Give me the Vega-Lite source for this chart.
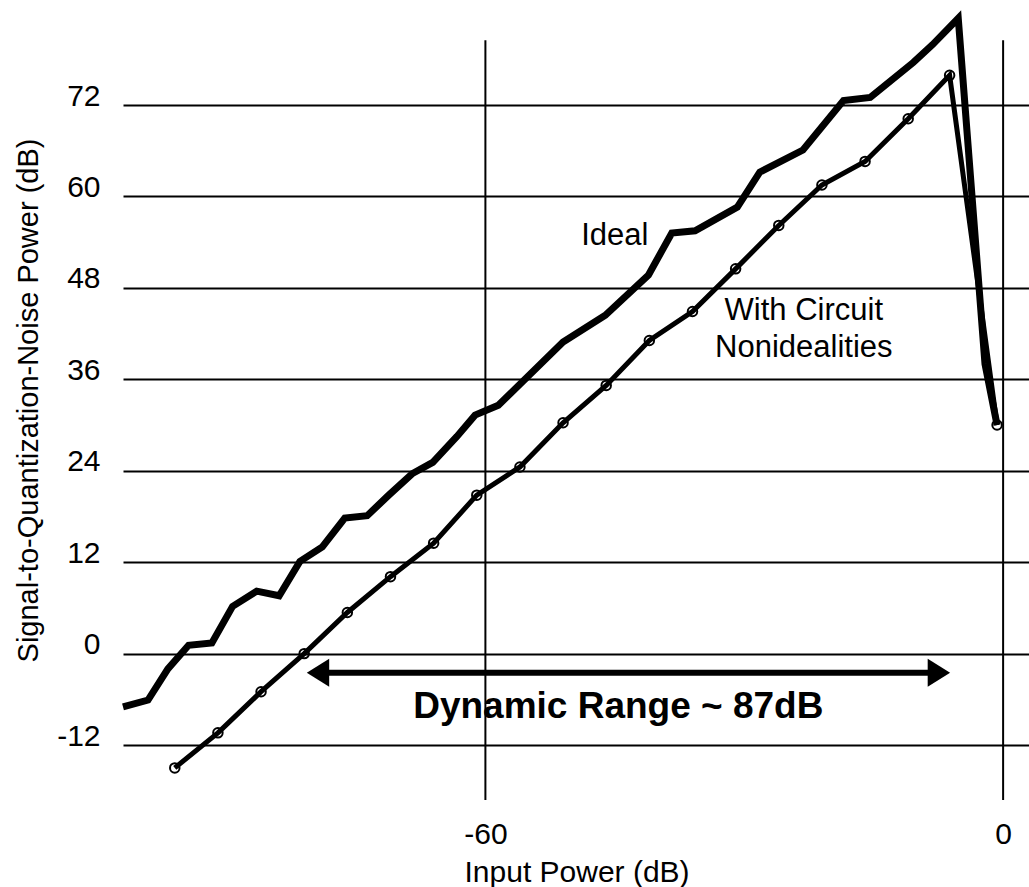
{
  "$schema": "https://vega.github.io/schema/vega-lite/v6.json",
  "width": 906,
  "height": 800,
  "autosize": {"type": "none"},
  "padding": {"left": 123, "top": 6, "right": 0, "bottom": 81},
  "background": "white",
  "config": {
    "view": {"stroke": null},
    "font": "Liberation Sans",
    "axis": {"labelFont": "Liberation Sans", "titleFont": "Liberation Sans", "labelColor": "black", "titleColor": "black", "labelFontSize": 30, "titleFontSize": 30, "titleFontWeight": "normal", "domain": false, "ticks": false}
  },
  "datasets": {
    "ideal": [
      {"x": -102, "y": -7.0}, {"x": -99.1, "y": -6.1}, {"x": -96.8, "y": -2.0}, {"x": -94.4, "y": 1.1},
      {"x": -91.7, "y": 1.4}, {"x": -89.3, "y": 6.2}, {"x": -86.5, "y": 8.2}, {"x": -83.9, "y": 7.6},
      {"x": -81.5, "y": 12.1}, {"x": -78.9, "y": 14.0}, {"x": -76.3, "y": 17.8}, {"x": -73.7, "y": 18.1},
      {"x": -71.2, "y": 20.8}, {"x": -68.5, "y": 23.6}, {"x": -66.1, "y": 25.1}, {"x": -63.3, "y": 28.5},
      {"x": -61.2, "y": 31.3}, {"x": -58.5, "y": 32.6}, {"x": -51.0, "y": 40.9}, {"x": -46.1, "y": 44.4},
      {"x": -41.1, "y": 49.7}, {"x": -38.4, "y": 55.2}, {"x": -35.7, "y": 55.5}, {"x": -30.8, "y": 58.6},
      {"x": -28.2, "y": 63.2}, {"x": -23.2, "y": 66.1}, {"x": -18.5, "y": 72.6}, {"x": -15.4, "y": 73.0},
      {"x": -10.4, "y": 77.6}, {"x": -8.2, "y": 79.9}, {"x": -5.2, "y": 83.4}, {"x": -2.1, "y": 38.0},
      {"x": -0.7, "y": 30.0}
    ],
    "circuit": [
      {"x": -96, "y": -15.0}, {"x": -91, "y": -10.4}, {"x": -86, "y": -5.0}, {"x": -81, "y": 0.0},
      {"x": -76, "y": 5.4}, {"x": -71, "y": 10.1}, {"x": -66, "y": 14.5}, {"x": -61, "y": 20.8},
      {"x": -56, "y": 24.5}, {"x": -51, "y": 30.3}, {"x": -46, "y": 35.2}, {"x": -41, "y": 41.1},
      {"x": -36, "y": 44.9}, {"x": -31, "y": 50.5}, {"x": -26, "y": 56.2}, {"x": -21, "y": 61.5},
      {"x": -16, "y": 64.6}, {"x": -11, "y": 70.2}, {"x": -6.2, "y": 75.9}, {"x": -0.7, "y": 30.0}
    ],
    "vlines": [{"x": -60, "y1": -19.2, "y2": 80.5}, {"x": 0, "y1": -19.2, "y2": 80.5}],
    "arrow": [{"x1": -79.4, "x2": -7.44, "y": -2.5}],
    "heads": [
      {"x": -79.4, "y": -2.5, "shape": "M -0.8 0 L 0.8 -1 L 0.8 1 Z"},
      {"x": -7.44, "y": -2.5, "shape": "M 0.8 0 L -0.8 -1 L -0.8 1 Z"}
    ],
    "labels": [
      {"x": -45.0, "y": 53.6, "text": "Ideal"},
      {"x": -23.1, "y": 43.8, "text": "With Circuit"},
      {"x": -23.1, "y": 38.9, "text": "Nonidealities"}
    ],
    "title": [{"x": -44.6, "y": -8.45, "text": "Dynamic Range ~ 87dB"}]
  },
  "layer": [
    {
      "data": {"name": "vlines"},
      "mark": {"type": "rule", "color": "black", "strokeWidth": 2},
      "encoding": {
        "x": {"field": "x", "type": "quantitative", "scale": {"domain": [-102, 3], "nice": false, "zero": false},
              "axis": {"values": [-60, 0], "grid": false, "labelPadding": 37, "labelBaseline": "alphabetic", "labelExpr": "replace(datum.label, '\u2212', '-')",
                       "title": "Input Power (dB)", "titleX": 341, "titleY": 75, "titleAlign": "left", "titleBaseline": "alphabetic"}},
        "y": {"field": "y1", "type": "quantitative", "scale": {"domain": [-20, 85], "nice": false, "zero": false},
              "axis": {"values": [-12, 0, 12, 24, 36, 48, 60, 72], "grid": true, "gridColor": "black", "gridWidth": 2, "gridOpacity": 1, "labelPadding": 23, "labelOffset": -9, "labelExpr": "replace(datum.label, '\u2212', '-')",
                       "title": "Signal-to-Quantization-Noise Power (dB)", "titleFontSize": 29, "titleX": -86, "titleY": 394, "titleAngle": -90, "titleAlign": "center", "titleBaseline": "alphabetic"}},
        "y2": {"field": "y2"}
      }
    },
    {
      "data": {"name": "ideal"},
      "mark": {"type": "line", "color": "black", "strokeWidth": 7, "strokeJoin": "miter", "clip": false},
      "encoding": {"x": {"field": "x", "type": "quantitative"}, "y": {"field": "y", "type": "quantitative"}}
    },
    {
      "data": {"name": "circuit"},
      "mark": {"type": "line", "color": "black", "strokeWidth": 5, "clip": false},
      "encoding": {"x": {"field": "x", "type": "quantitative"}, "y": {"field": "y", "type": "quantitative"}}
    },
    {
      "data": {"name": "circuit"},
      "mark": {"type": "point", "shape": "circle", "filled": false, "stroke": "black", "strokeWidth": 2, "size": 90, "opacity": 1},
      "encoding": {"x": {"field": "x", "type": "quantitative"}, "y": {"field": "y", "type": "quantitative"}}
    },
    {
      "data": {"name": "arrow"},
      "mark": {"type": "rule", "color": "black", "strokeWidth": 6},
      "encoding": {"x": {"field": "x1", "type": "quantitative"}, "x2": {"field": "x2"}, "y": {"field": "y", "type": "quantitative"}}
    },
    {
      "data": {"name": "heads"},
      "mark": {"type": "point", "filled": true, "color": "black", "opacity": 1, "size": 784},
      "encoding": {"x": {"field": "x", "type": "quantitative"}, "y": {"field": "y", "type": "quantitative"}, "shape": {"field": "shape", "type": "nominal", "scale": null}}
    },
    {
      "data": {"name": "labels"},
      "mark": {"type": "text", "font": "Liberation Sans", "fontSize": 31, "color": "black", "align": "center", "baseline": "alphabetic"},
      "encoding": {"x": {"field": "x", "type": "quantitative"}, "y": {"field": "y", "type": "quantitative"}, "text": {"field": "text"}}
    },
    {
      "data": {"name": "title"},
      "mark": {"type": "text", "font": "Liberation Sans", "fontSize": 37, "fontWeight": "bold", "color": "black", "align": "center", "baseline": "alphabetic"},
      "encoding": {"x": {"field": "x", "type": "quantitative"}, "y": {"field": "y", "type": "quantitative"}, "text": {"field": "text"}}
    }
  ]
}
